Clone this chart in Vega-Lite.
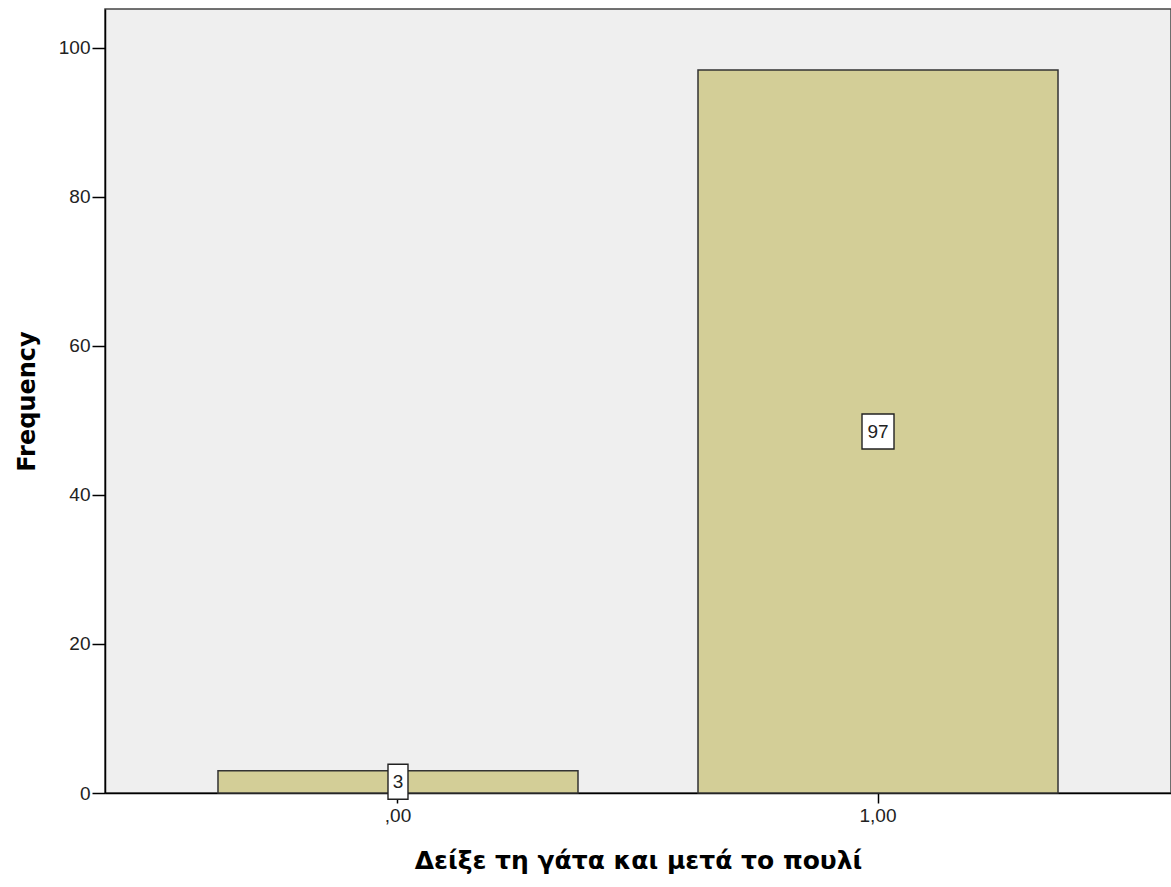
{
  "$schema": "https://vega.github.io/schema/vega-lite/v6.json",
  "autosize": {"type": "none"},
  "padding": {"left": 105, "top": 9, "right": 0, "bottom": 94},
  "width": 1066,
  "height": 784,
  "background": "white",
  "config": {
    "view": {"fill": "#efefef", "stroke": "#444444", "strokeWidth": 1.5},
    "font": "Liberation Sans"
  },
  "title": {
    "text": "Δείξε τη γάτα και μετά το πουλί",
    "font": "DejaVu Sans",
    "fontSize": 20,
    "fontWeight": "bold",
    "color": "#000000",
    "anchor": "middle",
    "baseline": "bottom",
    "dx": -65,
    "offset": 6
  },
  "data": {
    "values": [
      {"value": ",00", "freq": 3},
      {"value": "1,00", "freq": 97}
    ]
  },
  "layer": [
    {
      "mark": {"type": "bar", "fill": "#d3ce97", "stroke": "#333333", "strokeWidth": 1.5},
      "encoding": {
        "x": {
          "field": "value",
          "type": "nominal",
          "sort": null,
          "scale": {"paddingInner": 0.25, "paddingOuter": 0.2354},
          "axis": {
            "title": "Δείξε τη γάτα και μετά το πουλί",
            "titleFont": "DejaVu Sans",
            "titleFontSize": 25,
            "titleFontWeight": "bold",
            "titleColor": "#000000",
            "titleY": 75,
            "titleBaseline": "alphabetic",
            "titleAnchor": "middle",
            "labelAngle": 0,
            "labelFontSize": 19,
            "labelColor": "#222222",
            "labelPadding": 3,
            "tickSize": 10,
            "tickColor": "#000000",
            "tickWidth": 1.5,
            "domainColor": "#000000",
            "domainWidth": 1.5
          }
        },
        "y": {
          "field": "freq",
          "type": "quantitative",
          "scale": {"domain": [0, 105.2], "nice": false, "zero": true},
          "axis": {
            "title": "Frequency",
            "titleFont": "DejaVu Sans",
            "titleFontSize": 24,
            "titleFontWeight": "bold",
            "titleColor": "#000000",
            "titleX": -78,
            "titleAngle": -90,
            "titleBaseline": "middle",
            "titleAnchor": "middle",
            "values": [0, 20, 40, 60, 80, 100],
            "grid": false,
            "labelFontSize": 19,
            "labelColor": "#222222",
            "labelPadding": 2,
            "tickSize": 13,
            "tickColor": "#000000",
            "tickWidth": 1.5,
            "domainColor": "#000000",
            "domainWidth": 1.5
          }
        }
      }
    },
    {
      "mark": {"type": "point", "filled": true, "fill": "white", "stroke": "#222222", "strokeWidth": 1.4, "opacity": 1, "size": 1225},
      "encoding": {
        "x": {"field": "value", "type": "nominal", "sort": null},
        "y": {"field": "freq", "type": "quantitative", "scale": {"domain": [0, 210.4], "nice": false}, "axis": null},
        "shape": {
          "condition": {"test": "datum.freq < 10", "value": "M-0.571,-1H0.571V1H-0.571Z"},
          "value": "M-0.914,-1H0.914V1H-0.914Z"
        }
      }
    },
    {
      "mark": {"type": "text", "fontSize": 19, "color": "#222222", "baseline": "middle", "align": "center", "font": "Liberation Sans"},
      "encoding": {
        "x": {"field": "value", "type": "nominal", "sort": null},
        "y": {"field": "freq", "type": "quantitative", "scale": {"domain": [0, 210.4], "nice": false}, "axis": null},
        "text": {"field": "freq", "type": "quantitative"}
      }
    }
  ],
  "resolve": {"scale": {"y": "independent"}}
}
